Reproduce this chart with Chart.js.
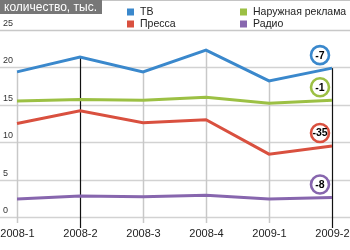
<!DOCTYPE html>
<html>
<head>
<meta charset="utf-8">
<script src="https://cdn.jsdelivr.net/npm/chart.js@4"></script>
<style>
html,body{margin:0;padding:0;background:#fff;}
#wrap{width:350px;height:250px;position:relative;}
</style>
</head>
<body>
<div id="wrap"><canvas id="c" width="350" height="250"></canvas></div>
<script>
const categories = ['2008-1','2008-2','2008-3','2008-4','2009-1','2009-2'];
const tv      = [19.4, 21.4, 19.4, 22.3, 18.2, 19.9];
const press   = [12.5, 14.2, 12.6, 13.0, 8.4, 9.5];
const outdoor = [15.5, 15.7, 15.6, 16.0, 15.2, 15.6];
const radio   = [2.4, 2.8, 2.7, 2.9, 2.4, 2.6];
const yTicks  = [0, 5, 10, 15, 20, 25];
const seriesNames = ['ТВ', 'Пресса', 'Наружная реклама', 'Радио'];
const changeLabels = {tv: '-7', outdoor: '-1', press: '-35', radio: '-8'};
const titleText = 'количество, тыс.';
const highlighted = ['2008-2', '2009-2'];

const COLORS = {tv:'#3a88cc', press:'#d9503f', outdoor:'#9cc044', radio:'#8766ae'};
const FONT = '"Liberation Sans", Arial, sans-serif';

const decor = {
  id: 'decor',
  beforeDatasetsDraw(chart) {
    const ctx = chart.ctx, xs = chart.scales.x, ys = chart.scales.y;
    ctx.save();
    // header
    ctx.fillStyle = '#777777';
    ctx.fillRect(0, 0, 102, 14);
    ctx.fillStyle = '#ffffff';
    ctx.font = '12px ' + FONT;
    ctx.textBaseline = 'middle';
    ctx.textAlign = 'left';
    ctx.fillText(titleText, 4, 7.5);
    ctx.strokeStyle = '#c4c4c4';
    ctx.lineWidth = 1;
    ctx.beginPath(); ctx.moveTo(102, 0.5); ctx.lineTo(350, 0.5); ctx.stroke();
    // legend
    const leg = [[127, 12, COLORS.tv, seriesNames[0]], [127, 24, COLORS.press, seriesNames[1]],
                 [240, 12, COLORS.outdoor, seriesNames[2]], [240, 24, COLORS.radio, seriesNames[3]]];
    ctx.font = '10.5px ' + FONT;
    leg.forEach(([x, y, c, t]) => {
      ctx.fillStyle = c;
      ctx.fillRect(x, y - 3.5, 7, 7);
      ctx.fillStyle = '#222';
      ctx.fillText(t, x + 13, y);
    });
    // horizontal gridlines + labels
    ctx.font = '9px ' + FONT;
    ctx.textBaseline = 'bottom';
    yTicks.forEach(t => {
      const y = Math.round(ys.getPixelForValue(t)) + 0.5;
      ctx.strokeStyle = t === 25 ? '#c8c8c8' : '#d2d2d2';
      ctx.lineWidth = 1.5;
      ctx.beginPath(); ctx.moveTo(0, y); ctx.lineTo(350, y); ctx.stroke();
      ctx.fillStyle = '#333';
      ctx.fillText(String(t), 3, y - 2);
    });
    // drop lines + category labels
    categories.forEach((cat, i) => {
      const x = Math.round(xs.getPixelForValue(i)) + 0.5;
      const top = ys.getPixelForValue(Math.max(tv[i], press[i], outdoor[i], radio[i]));
      const hl = highlighted.includes(cat);
      ctx.strokeStyle = hl ? '#111' : '#c8c8c8';
      ctx.lineWidth = hl ? 1.2 : 1.5;
      ctx.beginPath(); ctx.moveTo(x, top); ctx.lineTo(x, hl ? 228 : 223); ctx.stroke();
      ctx.fillStyle = '#222';
      ctx.font = '11px ' + FONT;
      ctx.textAlign = 'center';
      ctx.textBaseline = 'middle';
      ctx.fillText(cat, x, 233.5);
      ctx.textAlign = 'left';
      ctx.font = '9px ' + FONT;
      ctx.textBaseline = 'bottom';
    });
    ctx.restore();
  },
  afterDatasetsDraw(chart) {
    const ctx = chart.ctx;
    ctx.save();
    chart.data.datasets.forEach((ds, di) => {
      const meta = chart.getDatasetMeta(di);
      const pt = meta.data[meta.data.length - 1];
      const cx = pt.x - 12, cy = pt.y - 13;
      ctx.beginPath();
      ctx.arc(cx, cy, 9, 0, Math.PI * 2);
      ctx.fillStyle = '#fff';
      ctx.fill();
      ctx.lineWidth = 2.6;
      ctx.strokeStyle = ds.borderColor;
      ctx.stroke();
      ctx.fillStyle = '#000';
      ctx.font = 'bold 10.5px ' + FONT;
      ctx.textAlign = 'center';
      ctx.textBaseline = 'middle';
      ctx.fillText(changeLabels[ds.key], cx, cy + 0.5);
    });
    ctx.restore();
  }
};

new Chart(document.getElementById('c'), {
  type: 'line',
  data: {
    labels: categories,
    datasets: [
      {key: 'tv', label: seriesNames[0], data: tv, borderColor: COLORS.tv},
      {key: 'outdoor', label: seriesNames[2], data: outdoor, borderColor: COLORS.outdoor},
      {key: 'press', label: seriesNames[1], data: press, borderColor: COLORS.press},
      {key: 'radio', label: seriesNames[3], data: radio, borderColor: COLORS.radio}
    ].map(d => Object.assign(d, {borderWidth: 3, pointRadius: 0, tension: 0, fill: false}))
  },
  options: {
    responsive: false,
    animation: false,
    devicePixelRatio: 1,
    layout: {padding: {left: 17, right: 18, top: 30, bottom: 33}},
    plugins: {legend: {display: false}, tooltip: {enabled: false}},
    scales: {
      x: {display: false, offset: false},
      y: {display: false, min: 0, max: 25}
    }
  },
  plugins: [decor]
});
</script>
</body>
</html>
